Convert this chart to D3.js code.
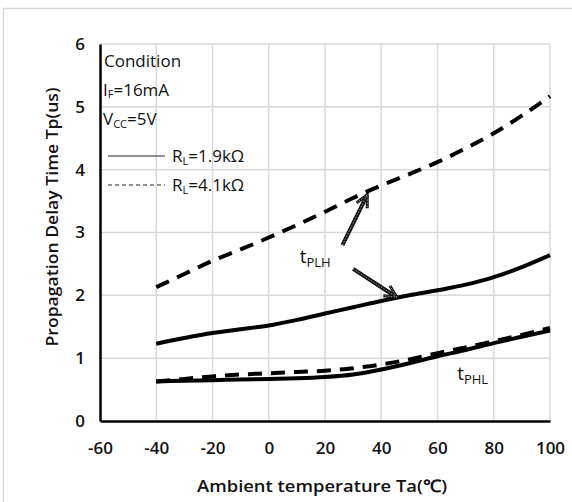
<!DOCTYPE html>
<html><head><meta charset="utf-8">
<script src="https://cdn.jsdelivr.net/npm/d3@7"></script>
<style>body{margin:0;background:#fff;} text{font-family:"Open Sans",sans-serif;}</style>
</head><body>
<svg id="c" width="572" height="502"></svg>
<script>
const temps = [-40, -30, -20, -10, 0, 10, 20, 30, 40, 50, 60, 70, 80, 90, 100];
const plh19 = [1.23, 1.32, 1.40, 1.46, 1.52, 1.61, 1.71, 1.81, 1.91, 2.00, 2.08, 2.17, 2.29, 2.45, 2.64];
const plh41 = [2.13, 2.34, 2.55, 2.73, 2.92, 3.12, 3.33, 3.55, 3.75, 3.93, 4.12, 4.34, 4.58, 4.86, 5.17];
const phl19 = [0.63, 0.64, 0.65, 0.66, 0.67, 0.68, 0.70, 0.74, 0.82, 0.92, 1.03, 1.13, 1.24, 1.34, 1.44];
const phl41 = [0.63, 0.67, 0.71, 0.74, 0.76, 0.78, 0.80, 0.84, 0.90, 0.98, 1.08, 1.17, 1.27, 1.37, 1.48];
const xTicks = [-60, -40, -20, 0, 20, 40, 60, 80, 100];
const yTicks = [0, 1, 2, 3, 4, 5, 6];
const arrows = [ {from:[26.2, 2.80], to:[35, 3.60]}, {from:[30, 2.42], to:[45.5, 1.97]} ];

const svg = d3.select("#c");
const x = d3.scaleLinear().domain([-60, 100]).range([100, 550]);
const y = d3.scaleLinear().domain([0, 6]).range([421, 44]);

// outer frame
svg.append("rect").attr("x", 3.5).attr("y", 8.5).attr("width", 700).attr("height", 700)
  .attr("fill", "none").attr("stroke", "#d9d9d9").attr("stroke-width", 1.5);

// grid
svg.append("g").selectAll("line").data(xTicks.slice(1)).join("line")
  .attr("x1", d => x(d)).attr("x2", d => x(d)).attr("y1", y(6)).attr("y2", y(0))
  .attr("stroke", "#d9d9d9").attr("stroke-width", 1.5);
svg.append("g").selectAll("line").data(yTicks.slice(1)).join("line")
  .attr("x1", x(-60)).attr("x2", x(100)).attr("y1", d => y(d)).attr("y2", d => y(d))
  .attr("stroke", "#d9d9d9").attr("stroke-width", 1.5);

// axes
const fmt = d => String(d);
const xAxis = svg.append("g").attr("transform", `translate(0,${y(0)})`)
  .call(d3.axisBottom(x).tickValues(xTicks).tickFormat(fmt).tickSize(0).tickPadding(21));
xAxis.select(".domain").attr("stroke", "#000").attr("stroke-width", 2.5);
xAxis.selectAll("text").attr("font-size", 17).attr("font-weight", 600).attr("fill", "#111")
  .attr("font-family", "'Open Sans',sans-serif");
const yAxis = svg.append("g").attr("transform", `translate(${x(-60)},0)`)
  .call(d3.axisLeft(y).tickValues(yTicks).tickFormat(fmt).tickSize(0).tickPadding(15));
yAxis.select(".domain").attr("stroke", "#000").attr("stroke-width", 2.5);
yAxis.selectAll("text").attr("font-size", 17).attr("font-weight", 600).attr("fill", "#111")
  .attr("font-family", "'Open Sans',sans-serif");

// axis titles
svg.append("text").attr("x", 322).attr("y", 492).attr("text-anchor", "middle")
  .attr("font-size", 17).attr("font-weight", 600).attr("fill", "#111")
  .attr("textLength", 250).attr("lengthAdjust", "spacingAndGlyphs").text("Ambient temperature Ta(℃)");
svg.append("text").attr("transform", "translate(58,217) rotate(-90)")
  .attr("text-anchor", "middle").attr("font-size", 17).attr("font-weight", 600).attr("fill", "#111")
  .attr("textLength", 259).attr("lengthAdjust", "spacingAndGlyphs")
  .text("Propagation Delay Time Tp(us)");

// curves
const line = d3.line().x((d, i) => x(temps[i])).y(d => y(d)).curve(d3.curveMonotoneX);
const series = [
  {v: plh41, dash: "14,9"}, {v: plh19, dash: null},
  {v: phl41, dash: "14,9"}, {v: phl19, dash: null}
];
svg.append("g").selectAll("path").data(series).join("path")
  .attr("d", d => line(d.v)).attr("fill", "none").attr("stroke", "#000")
  .attr("stroke-width", 4).attr("stroke-dasharray", d => d.dash);

// arrows
const defs = svg.append("defs");
const mk = defs.append("marker").attr("id", "ah").attr("viewBox", "0 0 16 16").attr("refX", 14).attr("refY", 8)
  .attr("markerUnits", "userSpaceOnUse").attr("markerWidth", 16).attr("markerHeight", 16).attr("orient", "auto");
mk.append("path").attr("d", "M2,2 L14,8 L2,14").attr("fill", "none").attr("stroke", "#111").attr("stroke-width", 3);
mk.append("path").attr("d", "M2,2 L14,8 L2,14").attr("fill", "none").attr("stroke", "#bbb").attr("stroke-width", 0.7).attr("stroke-dasharray", "1.5,1.5");
const ag = svg.append("g");
ag.selectAll("line.o").data(arrows).join("line").attr("class", "o")
  .attr("x1", d => x(d.from[0])).attr("y1", d => y(d.from[1]))
  .attr("x2", d => x(d.to[0])).attr("y2", d => y(d.to[1]))
  .attr("stroke", "#111").attr("stroke-width", 4).attr("marker-end", "url(#ah)");
ag.selectAll("line.i").data(arrows).join("line").attr("class", "i")
  .attr("x1", d => x(d.from[0])).attr("y1", d => y(d.from[1]))
  .attr("x2", d => x(d.to[0])).attr("y2", d => y(d.to[1]))
  .attr("stroke", "#bbb").attr("stroke-width", 0.8).attr("stroke-dasharray", "1.5,1.5");

// labels
function sub(t, main, s, fs) {
  t.append("tspan").text(main);
  t.append("tspan").attr("font-size", fs).attr("dy", 4).text(s);
}
const tplh = svg.append("text").attr("x", x(11)).attr("y", y(2.51)).attr("font-size", 19).attr("fill", "#111");
sub(tplh, "t", "PLH", 13);
const tphl = svg.append("text").attr("x", x(67)).attr("y", y(0.66)).attr("font-size", 19).attr("fill", "#111");
sub(tphl, "t", "PHL", 13);

// legend / condition
const lg = svg.append("g").attr("font-size", 17).attr("fill", "#111");
lg.append("text").attr("x", 104).attr("y", 67).text("Condition");
const t2 = lg.append("text").attr("x", 103).attr("y", 96);
t2.append("tspan").text("I");
t2.append("tspan").attr("font-size", 11).attr("dy", 2).text("F");
t2.append("tspan").attr("dy", -2).text("=16mA");
const t3 = lg.append("text").attr("x", 103).attr("y", 125);
t3.append("tspan").text("V");
t3.append("tspan").attr("font-size", 11).attr("dy", 3).text("CC");
t3.append("tspan").attr("dy", -3).text("=5V");
const leg = [{label: "1.9kΩ", dash: null, yy: 156}, {label: "4.1kΩ", dash: "4,3", yy: 185}];
leg.forEach(l => {
  lg.append("line").attr("x1", 108).attr("x2", 165).attr("y1", l.yy).attr("y2", l.yy)
    .attr("stroke", "#222").attr("stroke-width", 1.2).attr("stroke-dasharray", l.dash);
  const t = lg.append("text").attr("x", 172).attr("y", l.yy + 6);
  t.append("tspan").text("R");
  t.append("tspan").attr("font-size", 11).attr("dy", 3).text("L");
  t.append("tspan").attr("dy", -3).text("=" + l.label);
});
</script>
</body></html>
